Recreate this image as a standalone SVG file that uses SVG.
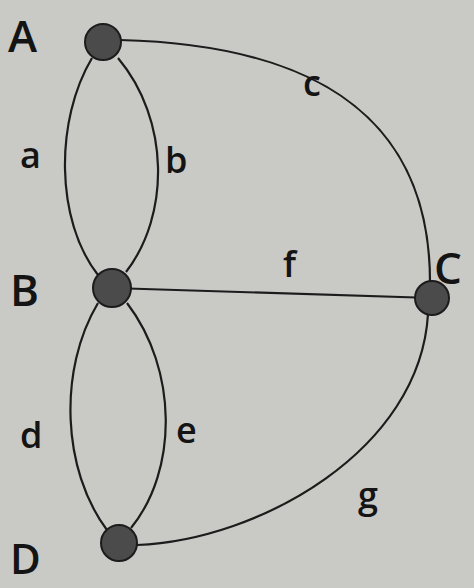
<svg xmlns="http://www.w3.org/2000/svg" width="474" height="588" viewBox="0 0 474 588">
<style>
.edge{fill:none;stroke:#1c1c1c;stroke-width:2.2}
.node{fill:#4b4b4b;stroke:#1c1c1c;stroke-width:2}
.lbl{font-family:"Open Sans","Liberation Sans",sans-serif;fill:#141414;font-weight:600}
.big{font-size:44px}
.small{font-size:36px}
</style>
<rect width="474" height="588" fill="#c9c9c6"/>
<g id="connectors">
<path id="edge-a" class="edge" d="M92,58 C55,120 55,220 98,275"/>
<path id="edge-b" class="edge" d="M118,58 C170,120 170,215 126,272"/>
<path id="edge-c" class="edge" d="M120,40 C320,45 430,120 430,282"/>
<path id="edge-f" class="edge" d="M112,288 L432,298"/>
<path id="edge-d" class="edge" d="M98,303 C58,370 62,470 107,530"/>
<path id="edge-e" class="edge" d="M127,303 C178,370 178,470 131,528"/>
<path id="edge-g" class="edge" d="M428,314 C420,450 260,540 137,545"/>
</g>
<g id="node-A"><circle class="node" cx="103" cy="42" r="18"/><text class="lbl big" x="8" y="52">A</text></g>
<g id="node-B"><circle class="node" cx="112" cy="288" r="19"/><text class="lbl big" x="10" y="306">B</text></g>
<g id="node-C"><circle class="node" cx="432" cy="298" r="17"/><text class="lbl big" x="434" y="284">C</text></g>
<g id="node-D"><circle class="node" cx="119" cy="543" r="18"/><text class="lbl" style="font-size:42px" x="10" y="574">D</text></g>
<g id="labels">
<text class="lbl small" x="303" y="96">c</text>
<text class="lbl small" x="20" y="168">a</text>
<text class="lbl small" x="165" y="173">b</text>
<text class="lbl small" x="283" y="277">f</text>
<text class="lbl small" x="20" y="448">d</text>
<text class="lbl small" x="176" y="443">e</text>
<text class="lbl small" x="358" y="508">g</text>
</g>
</svg>
